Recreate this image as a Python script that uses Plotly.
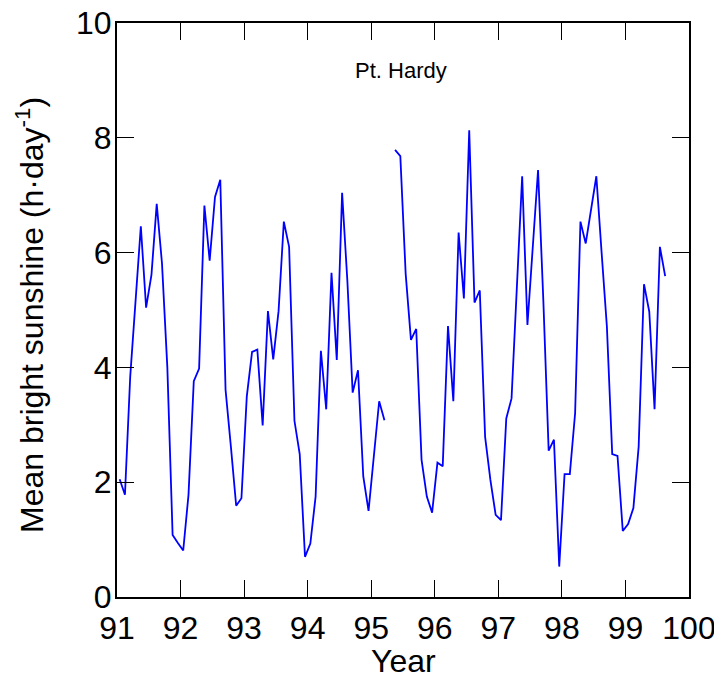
import plotly.graph_objects as go

# Month mid-points (fraction of year) and years covered
years = [91, 92, 93, 94, 95, 96, 97, 98, 99]
month_mid = [0.042, 0.125, 0.208, 0.292, 0.375, 0.458,
             0.542, 0.625, 0.708, 0.792, 0.875, 0.958]

# Monthly mean bright sunshine (h/day), Pt. Hardy; None = missing month
sun_91 = [2.05, 1.78, 3.84, 5.20, 6.46, 5.04, 5.61, 6.85, 5.81, 4.00, 1.08, 0.94]
sun_92 = [0.81, 1.78, 3.76, 3.98, 6.82, 5.86, 6.97, 7.27, 3.61, 2.62, 1.59, 1.72]
sun_93 = [3.49, 4.27, 4.31, 2.99, 4.98, 4.14, 4.98, 6.54, 6.10, 3.07, 2.49, 0.70]
sun_94 = [0.93, 1.75, 4.29, 3.27, 5.65, 4.13, 7.04, 5.50, 3.56, 3.95, 2.10, 1.50]
sun_95 = [2.40, 3.41, 3.08, None, 7.79, 7.68, 5.63, 4.48, 4.67, 2.39, 1.75, 1.47]
sun_96 = [2.34, 2.28, 4.72, 3.41, 6.35, 5.20, 8.13, 5.13, 5.34, 2.79, 2.04, 1.43]
sun_97 = [1.34, 3.11, 3.46, 5.40, 7.33, 4.74, 6.10, 7.44, 5.17, 2.55, 2.74, 0.53]
sun_98 = [2.14, 2.14, 3.20, 6.54, 6.16, 6.75, 7.33, 6.00, 4.71, 2.49, 2.46, 1.15]
sun_99 = [1.27, 1.55, 2.62, 5.45, 4.97, 3.27, 6.10, 5.59]

x_ticks = [91, 92, 93, 94, 95, 96, 97, 98, 99, 100]
y_ticks = [0, 2, 4, 6, 8, 10]

series = [sun_91, sun_92, sun_93, sun_94, sun_95, sun_96, sun_97, sun_98, sun_99]
xs, ys = [], []
for yr, vals in zip(years, series):
    for m, v in zip(month_mid, vals):
        xs.append(yr + m)
        ys.append(v)

FONT = "Liberation Sans, Arial, sans-serif"

fig = go.Figure()
fig.add_trace(go.Scatter(x=xs, y=ys, mode="lines",
                         line=dict(color="#0000FF", width=1.8),
                         connectgaps=False, showlegend=False))

fig.add_annotation(x=95.47, y=9.18, xref="x", yref="y", text="Pt. Hardy",
                   showarrow=False, font=dict(family=FONT, size=22, color="black"))

fig.add_annotation(x=0, y=0.5, xref="paper", yref="paper",
                   text="Mean bright sunshine (h·day<sup>-1</sup>)",
                   textangle=-90, showarrow=False, xanchor="center", yanchor="middle",
                   xshift=-87, yshift=-5,
                   font=dict(family=FONT, size=32, color="black"))

fig.add_annotation(x=0.5, y=0, xref="paper", yref="paper", text="Year",
                   showarrow=False, xanchor="center", yanchor="top",
                   yshift=-44,
                   font=dict(family=FONT, size=32, color="black"))

axis_common = dict(showline=True, linecolor="black", linewidth=2,
                   mirror="allticks", ticks="inside", ticklen=17, tickwidth=1.3,
                   tickcolor="black", showgrid=False, zeroline=False,
                   ticklabeloverflow="allow",
                   tickfont=dict(family=FONT, size=32, color="black"))

fig.update_xaxes(range=[91, 100], tickvals=x_ticks,
                 ticktext=[str(t) for t in x_ticks], ticklabelstandoff=2,
                 **axis_common)
fig.update_yaxes(range=[0, 10], tickvals=y_ticks,
                 ticktext=[str(t) for t in y_ticks], ticklabelstandoff=-3,
                 **axis_common)

fig.update_layout(width=714, height=672,
                  margin=dict(l=108.7, r=32.7, t=14.7, b=82.7, autoexpand=False),
                  paper_bgcolor="white", plot_bgcolor="white",
                  font=dict(family=FONT))

fig.write_html("out.html")
